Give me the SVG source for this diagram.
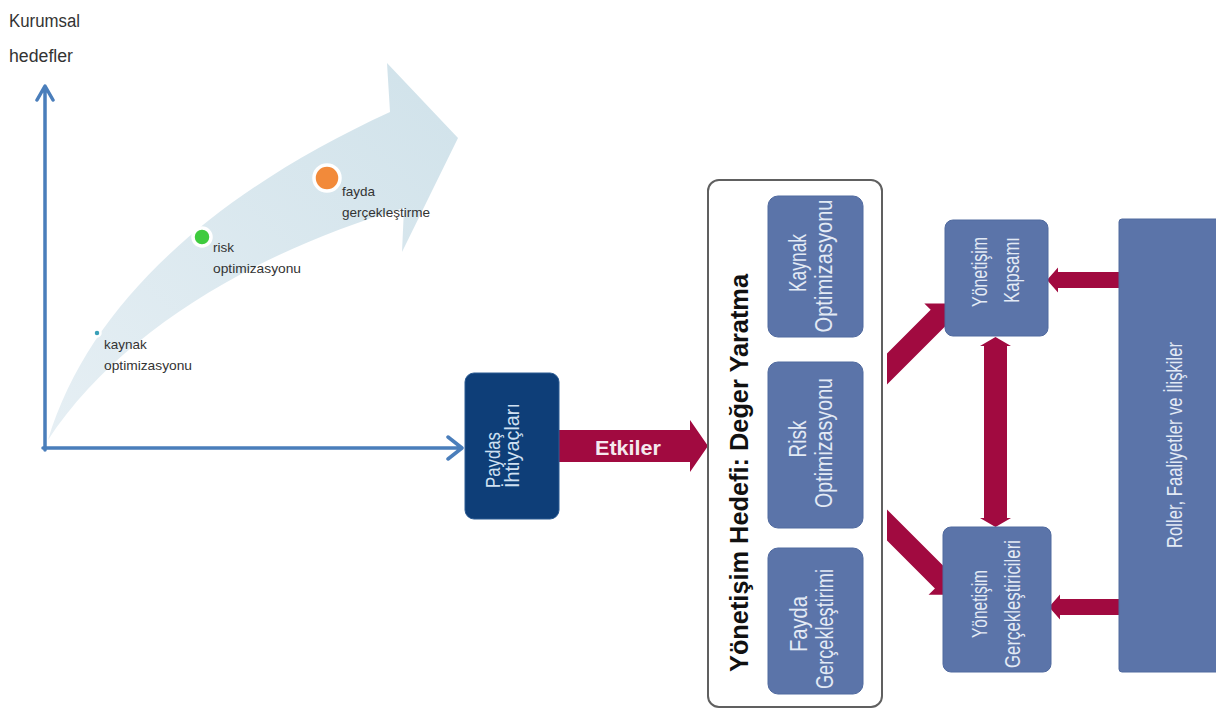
<svg xmlns="http://www.w3.org/2000/svg" width="1216" height="711" viewBox="0 0 1216 711">
<defs>
<style>
.ax{fill:none;stroke:#4a7ebb;stroke-width:3.5;stroke-linecap:round;stroke-linejoin:round}
.lbl{font-family:"Liberation Sans",Arial,sans-serif;font-size:13.5px;fill:#333}
.ttl{font-family:"Liberation Sans",Arial,sans-serif;font-size:18px;fill:#333}
.crim{fill:#a10a40}
.ib{fill:#5b74a9;stroke:#506a9f;stroke-width:1}
.wt{font-family:"Liberation Sans",Arial,sans-serif;font-size:23px;fill:#e3eaf5;text-anchor:middle}
.st{font-family:"Liberation Sans",Arial,sans-serif;font-size:22px;fill:#e3eaf5;text-anchor:middle}
</style>
<linearGradient id="bg" x1="0" y1="1" x2="1" y2="0">
<stop offset="0" stop-color="#e6eff4"/>
<stop offset="1" stop-color="#d0e2ea"/>
</linearGradient>
<clipPath id="cr"><rect x="887" y="0" width="329" height="711"/></clipPath>
</defs>
<rect width="1216" height="711" fill="#fff"/>

<g id="chart">
<path d="M48,440 C90,300 220,190 390,112 L387,63 L458,138 L402,252 L404,208 C260,250 120,330 48,440 Z" fill="url(#bg)"/>
<path class="ax" d="M45,450 V87 M37,100 L45,86 L53,100"/>
<path class="ax" d="M43,448 H460 M448,437 L462,448 L448,459"/>
<text class="ttl" x="9" y="27" textLength="71" lengthAdjust="spacingAndGlyphs">Kurumsal</text>
<text class="ttl" x="9" y="62" textLength="64" lengthAdjust="spacingAndGlyphs">hedefler</text>
<circle cx="97" cy="333" r="3.5" fill="#3aa0b8" stroke="#fff" stroke-width="2.5"/>
<text class="lbl" x="104" y="349">kaynak</text>
<text class="lbl" x="104" y="370" textLength="88" lengthAdjust="spacingAndGlyphs">optimizasyonu</text>
<circle cx="202" cy="237" r="9" fill="#3ecb3e" stroke="#fff" stroke-width="3.5"/>
<text class="lbl" x="213" y="252">risk</text>
<text class="lbl" x="213" y="273" textLength="88" lengthAdjust="spacingAndGlyphs">optimizasyonu</text>
<circle cx="327" cy="178" r="13" fill="#f28a3a" stroke="#fff" stroke-width="3.5"/>
<text class="lbl" x="342" y="196">fayda</text>
<text class="lbl" x="342" y="217" textLength="88" lengthAdjust="spacingAndGlyphs">gerçekleştirme</text>
</g>

<g id="connectors">
<polygon class="crim" points="559,430 690,430 690,420 708,446 690,472 690,462 559,462"/>
<text x="628" y="455" text-anchor="middle" font-family="Liberation Sans, Arial, sans-serif" font-weight="bold" font-size="21" fill="#f5e8ee" textLength="66" lengthAdjust="spacingAndGlyphs">Etkiler</text>
<g clip-path="url(#cr)">
<polygon class="crim" transform="translate(872,384) rotate(-45)" points="0,-11 94,-11 94,-20 114,0 94,20 94,11 0,11"/>
<polygon class="crim" transform="translate(872,510) rotate(45)" points="0,-11 100,-11 100,-20 120,0 100,20 100,11 0,11"/>
</g>
<polygon class="crim" points="1119,272 1058,272 1058,267.5 1047,280 1058,292.5 1058,288 1119,288"/>
<polygon class="crim" points="1119,599 1060,599 1060,594.5 1049,607 1060,619.5 1060,615 1119,615"/>
<polygon class="crim" points="984,346 980,346 995.5,337 1011,346 1007,346 1007,518 1011,518 995.5,527 980,518 984,518"/>
</g>

<g id="paydas">
<rect x="465" y="373" width="94" height="146" rx="9" fill="#0e3e78" stroke="#2a5a92" stroke-width="1"/>
<text transform="translate(500,488) rotate(-90)" font-family="Liberation Sans, Arial, sans-serif" font-size="21" fill="#cfe0f2" textLength="56" lengthAdjust="spacingAndGlyphs">Paydaş</text>
<text transform="translate(519,488) rotate(-90)" font-family="Liberation Sans, Arial, sans-serif" font-size="21" fill="#cfe0f2" textLength="85" lengthAdjust="spacingAndGlyphs">İhtiyaçları</text>
</g>

<g id="deger">
<rect x="708" y="180" width="174" height="527" rx="11" fill="#fff" stroke="#606060" stroke-width="2"/>
<text transform="translate(748,473) rotate(-90)" text-anchor="middle" font-family="Liberation Sans, Arial, sans-serif" font-weight="bold" font-size="25" fill="#111" textLength="398" lengthAdjust="spacingAndGlyphs">Yönetişim Hedefi: Değer Yaratma</text>
</g>

<g id="kaynak">
<rect class="ib" x="768" y="196" width="95" height="141" rx="10"/>
<text class="wt" transform="translate(806,263) rotate(-90)" textLength="58" lengthAdjust="spacingAndGlyphs">Kaynak</text>
<text class="wt" transform="translate(832,266) rotate(-90)" textLength="133" lengthAdjust="spacingAndGlyphs">Optimizasyonu</text>
</g>

<g id="risk">
<rect class="ib" x="768" y="362" width="95" height="166" rx="10"/>
<text class="wt" transform="translate(806,439) rotate(-90)" textLength="37" lengthAdjust="spacingAndGlyphs">Risk</text>
<text class="wt" transform="translate(832,443) rotate(-90)" textLength="130" lengthAdjust="spacingAndGlyphs">Optimizasyonu</text>
</g>

<g id="fayda">
<rect class="ib" x="768" y="548" width="95" height="146" rx="10"/>
<text class="wt" transform="translate(807,624) rotate(-90)" textLength="56" lengthAdjust="spacingAndGlyphs">Fayda</text>
<text class="wt" transform="translate(833,629) rotate(-90)" textLength="120" lengthAdjust="spacingAndGlyphs">Gerçekleştirimi</text>
</g>

<g id="kapsami">
<rect class="ib" x="945" y="220" width="103" height="116" rx="8"/>
<text class="st" transform="translate(987,272) rotate(-90)" textLength="70" lengthAdjust="spacingAndGlyphs">Yönetişim</text>
<text class="st" transform="translate(1019,270) rotate(-90)" textLength="66" lengthAdjust="spacingAndGlyphs">Kapsamı</text>
</g>

<g id="gerceklestiriciler">
<rect class="ib" x="943" y="527" width="108" height="145" rx="8"/>
<text class="st" transform="translate(987,604) rotate(-90)" textLength="68" lengthAdjust="spacingAndGlyphs">Yönetişim</text>
<text class="st" transform="translate(1020,604) rotate(-90)" textLength="128" lengthAdjust="spacingAndGlyphs">Gerçekleştiricileri</text>
</g>

<g id="roller">
<rect class="ib" x="1119" y="219" width="105" height="453" rx="3"/>
<text class="st" transform="translate(1182,445) rotate(-90)" textLength="206" lengthAdjust="spacingAndGlyphs">Roller, Faaliyetler ve İlişkiler</text>
</g>
</svg>
